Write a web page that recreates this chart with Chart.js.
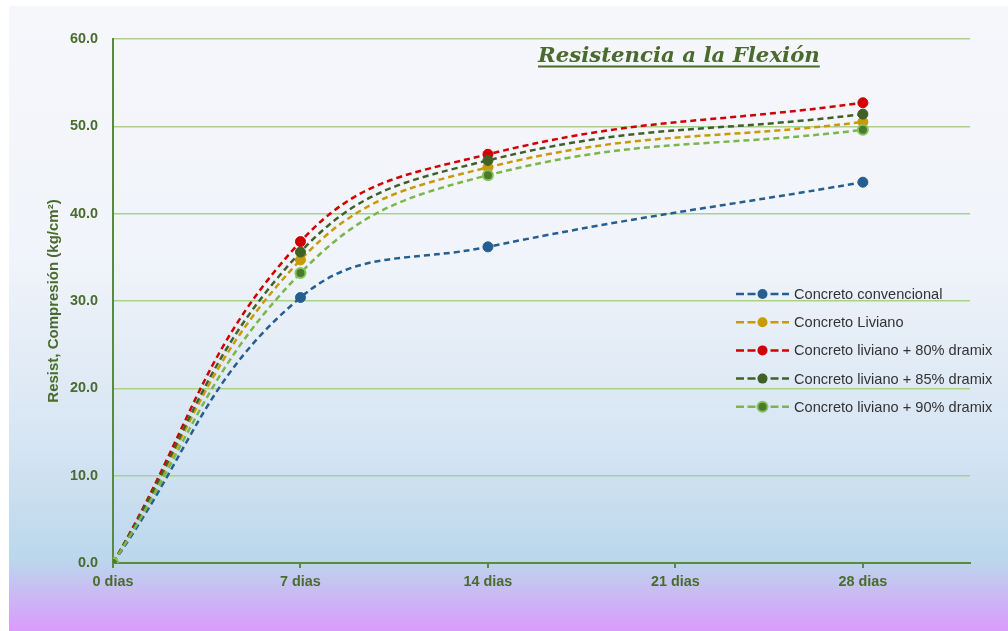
<!DOCTYPE html>
<html>
<head>
<meta charset="utf-8">
<script src="https://cdn.jsdelivr.net/npm/chart.js@4/dist/chart.umd.min.js"></script>
<style>
  html, body { margin: 0; padding: 0; background: #ffffff; }
  canvas { display: block; }
</style>
</head>
<body>
<canvas id="chart" width="1008" height="631"></canvas>
<script>
// Curing age (days) at which each specimen set was tested
const days = [0, 7, 14, 28];
const xTickValues = [0, 7, 14, 21, 28];
const xTickSuffix = ' dias';

const seriesLabels = [
  'Concreto convencional',
  'Concreto Liviano',
  'Concreto liviano + 80% dramix',
  'Concreto liviano + 85% dramix',
  'Concreto liviano + 90% dramix'
];

// Strength values (kg/cm²)
const convencional = [0, 30.4, 36.2, 43.6];
const liviano      = [0, 34.7, 45.3, 50.5];
const dramix80     = [0, 36.8, 46.8, 52.7];
const dramix85     = [0, 35.6, 46.1, 51.4];
const dramix90     = [0, 33.2, 44.4, 49.6];

const chartTitle = 'Resistencia a la Flexión';
const yAxisTitle = 'Resist, Compresión (kg/cm²)';

const lineColors  = ['#255E91', '#C99A06', '#D00000', '#3F6128', '#7AB648'];
const pointFills  = ['#255E91', '#C99A06', '#D00000', '#3F6128', '#4A7A2C'];
const pointEdges  = ['#255E91', '#C99A06', '#D00000', '#3F6128', '#86C25A'];
const valueSets = [convencional, liviano, dramix80, dramix85, dramix90];

const axisGreen = '#5A8A3C';
const textGreen = '#4A6B2F';
const gridGreen = '#A9D18E';
const fontFamily = '"Liberation Sans", Arial, sans-serif';

const datasets = valueSets.map((vals, i) => ({
  label: seriesLabels[i],
  data: days.map((d, k) => ({ x: d, y: vals[k] })),
  borderColor: lineColors[i],
  backgroundColor: pointFills[i],
  pointBackgroundColor: pointFills[i],
  pointBorderColor: pointEdges[i],
  pointBorderWidth: i === 4 ? 2 : 1,
  pointRadius: 5,
  pointHoverRadius: 5,
  borderWidth: 2.5,
  borderDash: [6, 4],
  tension: 0.42,
  fill: false,
  order: 4 - i
}));

// Page background: white margin plus vertical gradient panel
const backgroundPlugin = {
  id: 'panelBackground',
  beforeDraw(chart) {
    const ctx = chart.ctx;
    ctx.save();
    ctx.fillStyle = '#ffffff';
    ctx.fillRect(0, 0, chart.width, chart.height);
    const g = ctx.createLinearGradient(0, 6, 0, chart.height);
    g.addColorStop(0, '#F6F7FB');
    g.addColorStop(0.4, '#F1F4FA');
    g.addColorStop(0.7, '#D6E5F3');
    g.addColorStop(0.885, '#BBD7EC');
    g.addColorStop(1, '#DA9BFC');
    ctx.fillStyle = g;
    ctx.fillRect(9, 6, chart.width - 9, chart.height - 6);
    ctx.restore();
  }
};

// Underlined heading and in-plot legend
const overlayPlugin = {
  id: 'overlay',
  afterDatasetsDraw(chart) {
    const ctx = chart.ctx;
    ctx.save();

    // heading
    const targetW = 282;
    let size = 30;
    ctx.font = `italic bold ${size}px "DejaVu Serif"`;
    let w = ctx.measureText(chartTitle).width;
    size = size * targetW / w;
    ctx.font = `italic bold ${size}px "DejaVu Serif"`;
    w = ctx.measureText(chartTitle).width;
    const tx = 538;
    ctx.fillStyle = textGreen;
    ctx.textAlign = 'left';
    ctx.textBaseline = 'alphabetic';
    ctx.fillText(chartTitle, tx, 62);
    ctx.fillRect(tx, 65.5, w, 2);

    // legend
    ctx.font = `14.6px ${fontFamily}`;
    ctx.textBaseline = 'middle';
    chart.data.datasets.forEach((ds, i) => {
      const y = 294 + i * 28.2;
      ctx.strokeStyle = ds.borderColor;
      ctx.lineWidth = 2.5;
      ctx.setLineDash([8, 3.5]);
      ctx.beginPath();
      ctx.moveTo(736, y);
      ctx.lineTo(789, y);
      ctx.stroke();
      ctx.setLineDash([]);
      ctx.beginPath();
      ctx.arc(762.5, y, 5, 0, Math.PI * 2);
      ctx.fillStyle = ds.pointBackgroundColor;
      ctx.fill();
      if (ds.pointBorderWidth > 1) {
        ctx.lineWidth = ds.pointBorderWidth;
        ctx.strokeStyle = ds.pointBorderColor;
        ctx.stroke();
      }
      ctx.fillStyle = '#333333';
      ctx.fillText(ds.label, 794, y + 1);
    });
    ctx.restore();
  }
};

new Chart(document.getElementById('chart'), {
  type: 'line',
  data: { datasets },
  options: {
    responsive: false,
    animation: false,
    devicePixelRatio: 1,
    layout: { padding: { left: 0, right: 38, top: 39, bottom: 0 } },
    plugins: {
      legend: { display: false },
      title: { display: false },
      tooltip: { enabled: false }
    },
    scales: {
      x: {
        type: 'linear',
        min: 0,
        max: 32,
        afterBuildTicks(scale) {
          scale.ticks = xTickValues.map(v => ({ value: v }));
        },
        afterFit(scale) { scale.height = 68; },
        ticks: {
          callback: v => v + xTickSuffix,
          color: textGreen,
          font: { family: fontFamily, size: 14.4, weight: 'bold' },
          padding: 5,
          maxRotation: 0
        },
        grid: {
          drawOnChartArea: false,
          drawTicks: true,
          tickLength: 5,
          color: axisGreen,
          lineWidth: 2
        },
        border: { display: true, color: axisGreen, width: 2 }
      },
      y: {
        min: 0,
        max: 60,
        afterFit(scale) { scale.width = 113; },
        ticks: {
          stepSize: 10,
          callback: v => Number(v).toFixed(1),
          color: textGreen,
          font: { family: fontFamily, size: 14.4, weight: 'bold' },
          padding: 15
        },
        grid: {
          color: gridGreen,
          lineWidth: 1.5,
          drawTicks: false
        },
        border: { display: true, color: axisGreen, width: 2 },
        title: {
          display: true,
          text: yAxisTitle,
          color: textGreen,
          font: { family: fontFamily, size: 15, weight: 'bold' },
          padding: { top: 45, bottom: 0 }
        }
      }
    }
  },
  plugins: [backgroundPlugin, overlayPlugin]
});
</script>
</body>
</html>
